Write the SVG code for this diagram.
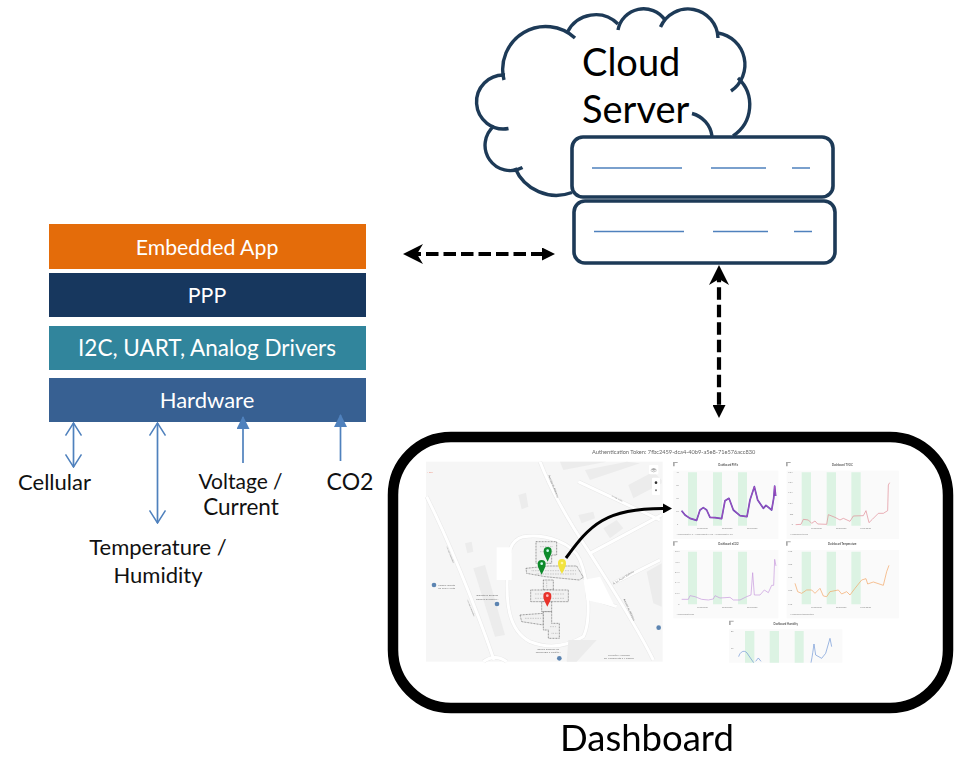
<svg xmlns="http://www.w3.org/2000/svg" width="959" height="759" viewBox="0 0 959 759">
<style>
text{font-family:"Lato","Open Sans","Liberation Sans",sans-serif}
.w{fill:#fff;font-size:21.300px;text-anchor:middle}
.k{fill:#111;font-size:22px;text-anchor:middle}
.big{fill:#000;font-size:38px}
.srv{fill:#fff;stroke:#1d3a57;stroke-width:3.600}
.cl{fill:none;stroke:#1d3a57;stroke-width:3.400;stroke-linecap:butt}
.bl{stroke:#4f81bd;stroke-width:1.500;fill:none}
.bb{stroke:#4f81bd;stroke-width:1.700;fill:none}
.dash{stroke:#000;stroke-width:4.200;stroke-dasharray:12.500 5;fill:none}
.road{stroke:#fff;stroke-width:9;fill:none}
.rdo{stroke:#e8e8e8;stroke-width:12;fill:none}
.blk{fill:#ececec}
.plan{fill:#f1f1f1;stroke:#555;stroke-width:2;stroke-dasharray:2.500 2}
.tt{font-size:8px;fill:#555;text-anchor:middle;font-weight:700}
.ml{font-size:8px;fill:#777}
.panel{fill:#fafafa}
.gr{fill:#dcf3e3}
.ax{font-size:6px;fill:#888}
.ln{fill:none;stroke-width:2;stroke-linejoin:round}
</style>
<defs>
<marker id="open" viewBox="0 0 14 17" refX="13" refY="8.500" markerWidth="14" markerHeight="17" markerUnits="userSpaceOnUse" orient="auto-start-reverse"><path d="M0.500 0.500L13 8.500L0.500 16.500" fill="none" stroke="#4f81bd" stroke-width="1.500"/></marker>
<marker id="fill" viewBox="0 0 13 13" refX="12" refY="6.500" markerWidth="13" markerHeight="13" markerUnits="userSpaceOnUse" orient="auto"><path d="M0 0L13 6.500L0 13Z" fill="#4f81bd"/></marker>
<marker id="barb" viewBox="0 0 20 20" refX="6" refY="10" markerWidth="20" markerHeight="20" markerUnits="userSpaceOnUse" orient="auto-start-reverse"><path d="M0 0L20 10L0 20L6 10Z" fill="#000"/></marker>
<marker id="tri" viewBox="0 0 13 13" refX="1" refY="6.500" markerWidth="13" markerHeight="13" markerUnits="userSpaceOnUse" orient="auto"><path d="M0 0L13 6.500L0 13Z" fill="#000"/></marker>
<marker id="tip" viewBox="0 0 9 10" refX="2" refY="5" markerWidth="9" markerHeight="10" markerUnits="userSpaceOnUse" orient="auto"><path d="M0 0L9 5L0 10Z" fill="#000"/></marker>
<filter id="soft" x="-2%" y="-2%" width="104%" height="104%"><feGaussianBlur stdDeviation="0.45"/></filter>
</defs>

<g id="cloud-server">
<g class="cl">
<path d="M572 192.500A45 45 0 0 1 515 168"/>
<path d="M522.500 167.500A25.300 25.300 0 0 1 494 126"/>
<path d="M508.500 128.500A27 27 0 1 1 505 75"/>
<path d="M504 80A43 43 0 0 1 575 38"/>
<path d="M567.500 32A31.500 31.500 0 0 1 618 24"/>
<path d="M618 30A26 26 0 0 1 665 20"/>
<path d="M660.500 27A30 30 0 0 1 718 38"/>
<path d="M718 33A32 32 0 0 1 731 91"/>
<path d="M738 78A37 37 0 0 1 733 136"/>
<path d="M692 113.500A27 27 0 0 1 712 136"/>
</g>
<text class="big" x="582" y="76">Cloud</text>
<text class="big" x="582" y="123">Server</text>
<rect class="srv" x="572" y="137" width="261" height="60" rx="11"/>
<rect class="srv" x="574" y="201" width="261" height="62" rx="11"/>
<g class="bl">
<path d="M592 168H682M711 168H766M792 168H810"/>
<path d="M594 231.500H684M713 231.500H768M794 231.500H812"/>
</g>
</g>

<g id="stack">
<g id="embedded-app"><rect x="49" y="224" width="317" height="45" fill="#e46c0a"/><text class="w" x="207" y="255">Embedded App</text></g>
<g id="ppp"><rect x="49" y="273" width="317" height="44" fill="#17375e"/><text class="w" x="207" y="303">PPP</text></g>
<g id="drivers"><rect x="49" y="326" width="317" height="44" fill="#31859c"/><text class="w" style="font-size:22.500px" x="207" y="356">I2C, UART, Analog Drivers</text></g>
<g id="hardware"><rect x="49" y="378" width="317" height="44" fill="#376092"/><text class="w" style="font-size:22px" x="207" y="408">Hardware</text></g>
</g>

<g id="labels">
<text class="k" x="54.500" y="489.500">Cellular</text>
<text class="k" style="font-size:21px" x="240.500" y="488.500">Voltage /</text>
<text class="k" style="font-size:22.500px" x="241" y="515">Current</text>
<text class="k" style="font-size:23px" x="350" y="490">CO2</text>
<text class="k" x="158" y="555">Temperature /</text>
<text class="k" x="158" y="583">Humidity</text>
</g>

<g id="dashboard">
<rect x="393" y="437" width="555" height="271" rx="58" fill="#fff" stroke="#000" stroke-width="10.500"/>
<g filter="url(#soft)">
<g transform="translate(420,440) scale(.33333)">
<rect x="18" y="65" width="710" height="600" fill="#f6f6f6"/>
<g class="rdo">
<path d="M360 65C400 170 470 280 510 340C560 420 640 540 700 660"/>
<path d="M20 170C80 290 160 480 222 660"/>
<path d="M310 290C270 300 262 340 262 400C258 480 262 570 330 605C380 625 430 625 490 590C515 540 505 420 480 360C460 310 380 280 310 290Z"/>
<path d="M510 340L725 225M475 125L720 240"/>
<path d="M500 470L590 500M580 430L720 360"/>
<path d="M190 665Q225 640 260 665"/>
</g>
<g class="road">
<path d="M360 65C400 170 470 280 510 340C560 420 640 540 700 660"/>
<path d="M20 170C80 290 160 480 222 660"/>
<path d="M310 290C270 300 262 340 262 400C258 480 262 570 330 605C380 625 430 625 490 590C515 540 505 420 480 360C460 310 380 280 310 290Z"/>
<path d="M510 340L725 225M475 125L720 240"/>
<path d="M500 470L590 500M580 430L720 360"/>
<path d="M190 665Q225 640 260 665"/>
</g>
<g class="blk">
<path d="M420 65H560L430 90Z"/><path d="M495 90L620 65L660 70L510 120Z"/><path d="M625 135L700 95L725 120V130L640 175Z"/>
<path d="M295 165L318 158L325 200L305 208Z"/><path d="M135 310L155 305L160 335L142 340Z"/>
<path d="M160 385L195 375L255 585L225 590Z"/><path d="M475 225L520 215L525 235L485 250Z"/>
<path d="M550 265L590 240L610 265L570 295Z"/><path d="M680 395L725 370V500L700 490Z"/>
<path d="M445 600L530 600L470 665H440Z"/>
</g>
<rect x="230" y="322" width="45" height="98" fill="#fff"/>
<path d="M490 420L540 410L585 500L500 480Z" fill="#fff"/>
<g class="plan">
<path d="M348 305H410V345H395V370H348Z"/>
<path d="M318 385L385 378L470 378L490 412L478 420L375 410L320 400Z"/>
<path d="M370 420H400V450H370Z"/>
<path d="M332 450H445V485H332Z"/>
<path d="M365 485H395V515H365Z"/>
<path d="M300 525L370 520V555L305 545Z"/>
<path d="M370 515H395V550H418V595H385V570H370Z"/>
</g>
<g fill="none" stroke="#777" stroke-width="1.500" stroke-dasharray="2 3">
<path d="M360 320H400M360 335H400M335 392H470M350 402H470M345 462H435M345 475H435M380 425V445M315 535H365M390 560H410M395 580H412"/>
</g>
<g stroke="none">
<path d="M383 365C375 348 371 342 371 333A12 12 0 0 1 395 333C395 342 391 348 383 365Z" fill="#0f8a2c"/><circle cx="383" cy="332" r="4" fill="#cfe"/>
<path d="M365 404C357 387 353 381 353 372A12 12 0 0 1 377 372C377 381 373 387 365 404Z" fill="#0f8a2c"/><circle cx="365" cy="371" r="4" fill="#cfe"/>
<path d="M426 402C418 385 414 380 414 369A12 12 0 0 1 438 369C438 380 434 385 426 402Z" fill="#f2e33c"/><circle cx="426" cy="369" r="4" fill="#fff6a0"/>
<path d="M382 500C374 483 370 478 370 468A12 12 0 0 1 394 468C394 478 390 483 382 500Z" fill="#e8302a"/><circle cx="382" cy="467" r="4" fill="#fbb"/>
</g>
<rect x="687" y="75" width="28" height="28" rx="3" fill="#fff"/><path d="M692 88L701 84L710 88L701 92Z" fill="#aaa"/><path d="M692 92L701 96L710 92" stroke="#aaa" stroke-width="2" fill="none"/>
<rect x="696" y="113" width="24" height="52" rx="3" fill="#fff"/><circle cx="708" cy="128" r="4" fill="#333"/><circle cx="708" cy="151" r="3" fill="#777"/>
<g fill="#5b84b1"><circle cx="42" cy="435" r="7"/><circle cx="231" cy="492" r="7"/><circle cx="418" cy="655" r="7"/><circle cx="716" cy="563" r="7"/></g>
<text x="20" y="98" class="ml" style="fill:#e87">+ bar</text>
<text x="80" y="438" class="ml" text-anchor="middle">Parque Infantil</text>
<text x="80" y="448" class="ml" text-anchor="middle">da Praia Norte</text>
<text x="202" y="469" class="ml" text-anchor="middle">Biblioteca Barbosa</text>
<text x="202" y="479" class="ml" text-anchor="middle">Romero da Escola...</text>
<text x="385" y="630" class="ml" text-anchor="middle">Escola Superior de</text>
<text x="385" y="640" class="ml" text-anchor="middle">Tecnologia e Gestão...</text>
<text x="597" y="648" class="ml" text-anchor="middle">Pavilhão Municipal</text>
<text x="597" y="658" class="ml" text-anchor="middle">de Monserrate e Meadela</text>
<text x="590" y="178" class="ml" transform="rotate(28 590 178)" text-anchor="middle">R. de Viãs</text>
<text x="612" y="415" class="ml" transform="rotate(-32 612 415)" text-anchor="middle">R. Dr. Pedro Barbosa</text>
<text x="398" y="140" class="ml" transform="rotate(68 398 140)" text-anchor="middle">Avenida do Atlântico</text>
<text x="88" y="345" class="ml" transform="rotate(68 88 345)" text-anchor="middle">Av. do Paredão</text>
<text x="150" y="505" class="ml" transform="rotate(68 150 505)" text-anchor="middle">Av. do Paredão</text>
<text x="625" y="510" class="ml" transform="rotate(65 625 510)" text-anchor="middle">Avenida do Atlântico</text>
</g>
<g transform="translate(665,440) scale(.33333)">
<text x="-219" y="42" style="font-size:17px;fill:#666">Authentication Token: 7fbc2459-dca4-40b9-a5e8-71e576acc830</text>
<g id="ch1">
<rect x="25" y="92" width="315" height="205" class="panel"/>
<path class="gr" d="M69 97h27v160h-27zM144 97h27v160h-27zM219 97h27v160h-27z"/>
<text class="tt" x="190" y="78">Dashboard PM/s</text>
<path d="M24 66h14v3h-9v10h-5z" fill="#aaa"/>
<polyline class="ln" stroke="#5f49b8" style="stroke-width:5" points="50,212 60,225 75,235 95,241 105,210 115,203 125,210 135,232 150,233 170,236 180,182 192,175 205,210 225,227 246,230 255,180 268,140 278,180 295,205 303,196 320,210 326,175 329,138 332,168"/>
<polyline class="ln" stroke="#c34fc0" points="50,212 60,225 75,235 95,241 105,210 115,203 125,210 135,232 150,233 170,236 180,182 192,175 205,210 225,227 246,230 255,180 268,140 278,180 295,205 303,196 320,210 326,175 329,138 332,168"/>
<text class="ax" x="34" y="98">40</text><text class="ax" x="34" y="138">30</text><text class="ax" x="34" y="178">20</text><text class="ax" x="34" y="217">10</text><text class="ax" x="36" y="256">0</text>
<text class="ax" x="96" y="267">10:29:00:00</text><text class="ax" x="170" y="267">10:30:00:00</text><text class="ax" x="245" y="267">10:31:00:00</text>
<text class="ax" x="35" y="286">Measurement PM1 · Measurement PM2.5 · Measurement PM10</text>
</g>
<g id="ch2">
<rect x="365" y="92" width="337" height="205" class="panel"/>
<path class="gr" d="M410 97h28v160h-28zM485 97h28v160h-28zM559 97h28v160h-28z"/>
<text class="tt" x="532" y="78">Dashboard TVOC</text>
<path d="M363 66h14v3h-9v10h-5z" fill="#aaa"/>
<polyline class="ln" stroke="#e08a94" points="392,254 408,253 415,238 430,240 440,250 450,243 458,252 485,253 490,224 510,232 525,240 535,235 555,244 565,228 595,227 603,212 612,248 622,238 640,220 655,220 668,212 670,135 674,128"/>
<text class="ax" x="370" y="98">2.5 k</text><text class="ax" x="370" y="129">2.0 k</text><text class="ax" x="370" y="160">1.5 k</text><text class="ax" x="370" y="191">1.0 k</text><text class="ax" x="374" y="225">500</text><text class="ax" x="380" y="256">0</text>
<text class="ax" x="438" y="267">10:29:00:00</text><text class="ax" x="512" y="267">10:30:00:00</text><text class="ax" x="586" y="267">10:31:00:00</text>
<text class="ax" x="376" y="286">Measurement TVOC</text>
</g>
<g id="ch3">
<rect x="25" y="330" width="315" height="205" class="panel"/>
<path class="gr" d="M69 335h27v158h-27zM144 335h27v158h-27zM219 335h27v158h-27z"/>
<text class="tt" x="190" y="316">Dashboard eCO2</text>
<path d="M24 304h14v3h-9v10h-5z" fill="#aaa"/>
<polyline class="ln" stroke="#c596dc" points="50,478 70,478 75,467 90,470 110,478 130,480 145,477 150,467 165,474 195,472 205,480 225,480 245,470 258,465 263,398 268,465 285,465 298,450 310,458 320,436 326,436 329,358 333,378"/>
<text class="ax" x="30" y="335">6.0 K</text><text class="ax" x="30" y="368">4.8 K</text><text class="ax" x="30" y="399">3.6 K</text><text class="ax" x="30" y="430">2.4 K</text><text class="ax" x="30" y="462">1.2 K</text><text class="ax" x="40" y="494">0</text>
<text class="ax" x="96" y="505">10:29:00:00</text><text class="ax" x="170" y="505">10:30:00:00</text><text class="ax" x="245" y="505">10:31:00:00</text>
<text class="ax" x="35" y="524">Measurement eCO2</text>
</g>
<g id="ch4">
<rect x="365" y="330" width="337" height="205" class="panel"/>
<path class="gr" d="M410 335h28v158h-28zM485 335h28v158h-28zM559 335h28v158h-28z"/>
<text class="tt" x="532" y="316">Dashboard Temperature</text>
<path d="M363 304h14v3h-9v10h-5z" fill="#aaa"/>
<polyline class="ln" stroke="#f3a35f" points="390,430 398,455 410,460 425,450 440,450 450,460 465,445 475,468 485,470 495,455 520,450 530,462 545,455 555,465 570,445 590,420 603,416 608,432 625,426 655,436 665,395 672,376"/>
<text class="ax" x="370" y="337">21.0</text><text class="ax" x="370" y="376">20.0</text><text class="ax" x="370" y="415">19.0</text><text class="ax" x="370" y="454">18.0</text><text class="ax" x="370" y="494">17.0</text>
<text class="ax" x="438" y="505">10:29:00:00</text><text class="ax" x="512" y="505">10:30:00:00</text><text class="ax" x="586" y="505">10:31:00:00</text>
<text class="ax" x="376" y="524">Measurement Temperature</text>
</g>
<g id="ch5">
<rect x="192" y="568" width="340" height="100" class="panel"/>
<path class="gr" d="M240 573h28v95h-28zM314 573h28v95h-28zM389 573h27v95h-27z"/>
<text class="tt" x="362" y="554">Dashboard Humidity</text>
<path d="M192 542h14v3h-9v10h-5z" fill="#aaa"/>
<path class="ln" stroke="#6d94d4" d="M221 650C225 635 240 625 250 645L266 668M272 664L280 654L288 664M438 668C442 650 445 625 447 612L452 645L470 655L482 640L495 595L500 620"/>
<text class="ax" x="198" y="575">80</text><text class="ax" x="198" y="626">75</text>
</g>
</g>
</g>
<text class="big" style="font-size:36.500px" x="560" y="751">Dashboard</text>
</g>

<g id="connectors">
<path class="dash" style="stroke-dashoffset:8.500" d="M417 254H543" marker-start="url(#barb)" marker-end="url(#tri)"/>
<path class="dash" style="stroke-dashoffset:9.200" d="M719 279V406" marker-start="url(#barb)" marker-end="url(#tri)"/>
<path d="M566 558C590 525 605 508 665 508.500" fill="none" stroke="#000" stroke-width="3" marker-end="url(#tip)"/>
<path class="bb" d="M73.500 423V467" marker-start="url(#open)" marker-end="url(#open)"/>
<path class="bb" d="M157.500 423V523" marker-start="url(#open)" marker-end="url(#open)"/>
<path class="bb" d="M243 463V417" marker-end="url(#fill)"/>
<path class="bb" d="M340.500 461V415" marker-end="url(#fill)"/>
</g>
</svg>
